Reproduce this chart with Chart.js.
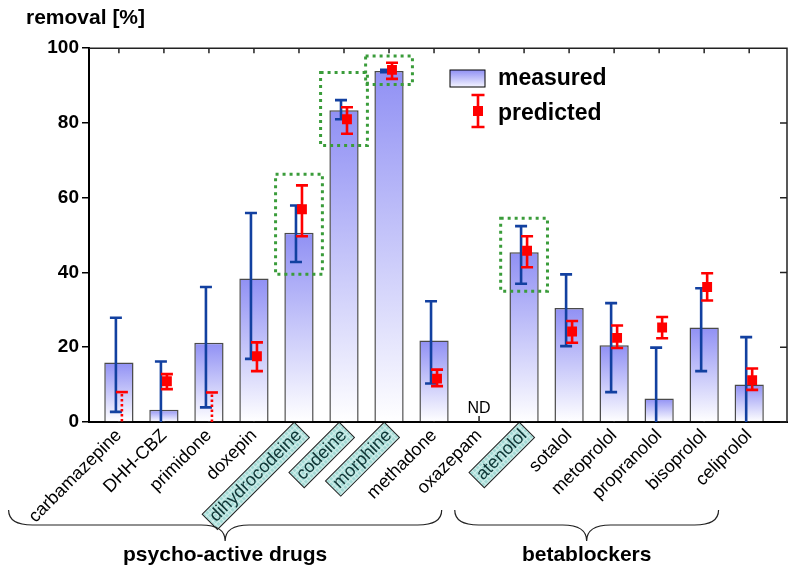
<!DOCTYPE html>
<html>
<head>
<meta charset="utf-8">
<script src="https://cdn.jsdelivr.net/npm/chart.js@4.4.0/dist/chart.umd.min.js"></script>
<style>
  html, body { margin: 0; padding: 0; background: #fff; }
  canvas { display: block; }
</style>
</head>
<body>
<canvas id="chart" width="794" height="569"></canvas>
<script>
const drugs = ['carbamazepine', 'DHH-CBZ', 'primidone', 'doxepin', 'dihydrocodeine', 'codeine', 'morphine', 'methadone',
  'oxazepam', 'atenolol', 'sotalol', 'metoprolol', 'propranolol', 'bisoprolol', 'celiprolol'];
const measured =      [15.9, 3.3, 21.2, 38.4, 50.6, 83.4, 93.9, 21.8, null, 45.4, 30.5, 20.5, 6.3, 25.3, 10.0];
const measuredHigh =  [27.9, 16.2, 36.1, 55.9, 57.9, 86.1, 94.2, 32.3, null, 52.4, 39.5, 31.8, 19.9, 35.8, 22.7];
const measuredLow =   [2.7, -5, 3.9, 16.9, 42.8, 81.0, 93.6, 10.3, null, 37.0, 20.3, 8.0, -5, 13.6, -5];
const predicted =     [null, 10.9, null, 17.6, 56.9, 81.0, 94.2, 11.6, null, 45.8, 24.2, 22.5, 25.3, 36.1, 11.2];
const predictedHigh = [8.0, 12.8, 7.9, 21.3, 63.3, 84.2, 96.1, 14.0, null, 49.7, 27.0, 25.8, 28.1, 39.8, 14.3];
const predictedLow =  [0, 8.8, 0, 13.6, 49.7, 77.1, 91.8, 9.6, null, 41.4, 21.2, 19.8, 22.4, 32.5, 8.6];
const notDetected = [false, false, false, false, false, false, false, false, true, false, false, false, false, false, false];
const highlighted = [4, 5, 6, 9];
const boxTop =    [null, null, null, null, 66.3, 93.5, 97.9, null, null, 54.5, null, null, null, null, null];
const boxBottom = [null, null, null, null, 39.5, 74.0, 90.3, null, null, 35.0, null, null, null, null, null];
const groupNames = ['psycho-active drugs', 'betablockers'];
const groupFrom = [-2.45, 7.46];
const groupTo = [7.17, 13.32];
const seriesNames = ['measured', 'predicted'];

const FONT = "'Liberation Sans', Arial, sans-serif";
const BLUE = '#1240a0';
const RED = '#ff0000';
const LABEL_SIZE = 18;
const LABEL_PAD = 3;

// teal hatched fill for the highlighted names
const tile = document.createElement('canvas');
tile.width = 4; tile.height = 4;
const tg = tile.getContext('2d');
tg.fillStyle = '#a4dbd6'; tg.fillRect(0, 0, 4, 4);
tg.fillStyle = '#d2eeeb'; tg.fillRect(0, 0, 4, 1); tg.fillRect(0, 0, 1, 4);

const barFill = (ctx) => {
  const chart = ctx.chart;
  if (!chart.chartArea || !ctx.parsed) return '#9a9af6';
  const y = chart.scales.y;
  const top = y.getPixelForValue(ctx.parsed.y);
  const base = y.getPixelForValue(0);
  const g = chart.ctx.createLinearGradient(0, top, 0, base);
  g.addColorStop(0, '#9090f4');
  g.addColorStop(1, '#ffffff');
  return g;
};

function drawBar(c, x, top, bottom, capTop, capBottom, w) {
  c.beginPath();
  c.moveTo(x, top); c.lineTo(x, bottom);
  if (capTop) { c.moveTo(x - w / 2, top); c.lineTo(x + w / 2, top); }
  if (capBottom) { c.moveTo(x - w / 2, bottom); c.lineTo(x + w / 2, bottom); }
  c.stroke();
}

const decor = {
  id: 'decor',
  beforeDraw(chart) {
    // boxes behind highlighted tick labels
    const c = chart.ctx, xs = chart.scales.x;
    const lh = LABEL_SIZE * 1.2;
    c.save();
    c.font = `${LABEL_SIZE}px ${FONT}`;
    const pat = c.createPattern(tile, 'repeat');
    highlighted.forEach(i => {
      const w = c.measureText(drugs[i]).width;
      const x = xs.getPixelForValue(i) - (lh / 2) * Math.SQRT1_2;
      const y = xs.top + LABEL_PAD;
      c.save();
      c.translate(x, y);
      c.rotate(-Math.PI / 4);
      c.fillStyle = pat;
      c.fillRect(-w - 4, 0, w + 8, lh);
      c.strokeStyle = '#222';
      c.lineWidth = 1;
      c.strokeRect(-w - 4, 0, w + 8, lh);
      c.restore();
    });
    c.restore();
  },
  beforeDatasetsDraw(chart) {
    const c = chart.ctx, xs = chart.scales.x, ys = chart.scales.y, a = chart.chartArea;
    c.save();
    c.strokeStyle = '#222';
    c.lineWidth = 1.5;
    // frame top and right with inward ticks
    c.beginPath();
    c.moveTo(a.left, a.top); c.lineTo(a.right, a.top); c.lineTo(a.right, a.bottom);
    xs.ticks.forEach(t => {
      const px = xs.getPixelForValue(t.value);
      c.moveTo(px, a.top); c.lineTo(px, a.top + 5);
      c.moveTo(px, a.bottom); c.lineTo(px, a.bottom - 6);
    });
    ys.ticks.forEach(t => {
      const py = ys.getPixelForValue(t.value);
      c.moveTo(a.right, py); c.lineTo(a.right - 7, py);
    });
    c.stroke();
    // ND labels
    c.fillStyle = '#000';
    c.font = `16px ${FONT}`;
    c.textAlign = 'center';
    c.textBaseline = 'middle';
    notDetected.forEach((nd, i) => {
      if (nd) c.fillText('ND', xs.getPixelForValue(i), a.bottom - 13);
    });
    c.restore();
  },
  afterDatasetDraw(chart, args) {
    if (args.index !== 0) return;
    const c = chart.ctx, xs = chart.scales.x, ys = chart.scales.y;
    const py = v => ys.getPixelForValue(v);
    c.save();
    c.lineWidth = 2.6;
    c.lineCap = 'butt';
    // measured spread
    c.strokeStyle = BLUE;
    drugs.forEach((d, i) => {
      if (measuredHigh[i] == null) return;
      const x = xs.getPixelForValue(i) - 3;
      const low = Math.max(measuredLow[i], 0);
      drawBar(c, x, py(measuredHigh[i]), py(low), true, measuredLow[i] >= 0, 12);
    });
    // predicted range
    c.strokeStyle = RED;
    drugs.forEach((d, i) => {
      if (predictedHigh[i] == null) return;
      const x = xs.getPixelForValue(i) + 3;
      if (predicted[i] == null) {
        c.setLineDash([2.5, 2.5]);
        drawBar(c, x, py(predictedHigh[i]) + 2, py(predictedLow[i]), false, false, 12);
        c.setLineDash([]);
        drawBar(c, x, py(predictedHigh[i]), py(predictedHigh[i]), true, false, 12);
      } else {
        drawBar(c, x, py(predictedHigh[i]), py(predictedLow[i]), true, true, 12);
      }
    });
    c.restore();
  },
  afterDatasetsDraw(chart) {
    const c = chart.ctx, xs = chart.scales.x, ys = chart.scales.y;
    c.save();
    // dotted green boxes
    c.strokeStyle = '#3a9c3a';
    c.lineWidth = 3;
    c.setLineDash([3, 4]);
    drugs.forEach((d, i) => {
      if (boxTop[i] == null) return;
      const l = xs.getPixelForValue(i - 0.52), r = xs.getPixelForValue(i + 0.52);
      const t = ys.getPixelForValue(boxTop[i]), b = ys.getPixelForValue(boxBottom[i]);
      c.strokeRect(l, t, r - l, b - t);
    });
    c.setLineDash([]);
    // legend
    const lx = 450, ly = 70;
    const g = c.createLinearGradient(0, ly, 0, ly + 17);
    g.addColorStop(0, '#9090f4');
    g.addColorStop(1, '#f4f4ff');
    c.fillStyle = g;
    c.fillRect(lx, ly, 35, 17);
    c.strokeStyle = '#000';
    c.lineWidth = 1;
    c.strokeRect(lx, ly, 35, 17);
    c.strokeStyle = RED;
    c.lineWidth = 2.6;
    drawBar(c, lx + 28, ly + 25, ly + 57, true, true, 13);
    c.fillStyle = RED;
    c.fillRect(lx + 23, ly + 36, 10, 10);
    c.fillStyle = '#000';
    c.font = `bold 23px ${FONT}`;
    c.textAlign = 'left';
    c.textBaseline = 'middle';
    c.fillText(seriesNames[0], lx + 48, ly + 9);
    c.fillText(seriesNames[1], lx + 48, ly + 44);
    // group braces
    c.strokeStyle = '#222';
    c.lineWidth = 1.2;
    c.font = `bold 21px ${FONT}`;
    c.textAlign = 'center';
    groupNames.forEach((name, k) => {
      const x0 = xs.getPixelForValue(groupFrom[k]), x1 = xs.getPixelForValue(groupTo[k]);
      const xc = (x0 + x1) / 2;
      const yTop = 510, yMid = 525, yTip = 541, r = 24;
      c.beginPath();
      c.moveTo(x0, yTop);
      c.quadraticCurveTo(x0, yMid, x0 + r, yMid);
      c.lineTo(xc - r, yMid);
      c.quadraticCurveTo(xc, yMid, xc, yTip);
      c.quadraticCurveTo(xc, yMid, xc + r, yMid);
      c.lineTo(x1 - r, yMid);
      c.quadraticCurveTo(x1, yMid, x1, yTop);
      c.stroke();
      c.fillText(name, xc, 555);
    });
    c.restore();
  }
};

new Chart(document.getElementById('chart'), {
  type: 'bar',
  data: {
    datasets: [
      {
        label: seriesNames[0],
        data: drugs.map((d, i) => ({ x: i, y: measured[i] })).filter(p => p.y != null),
        backgroundColor: barFill,
        borderColor: '#4a4a4a',
        borderWidth: 1.5,
        barPercentage: 0.65,
        categoryPercentage: 1,
        order: 2
      },
      {
        type: 'scatter',
        label: seriesNames[1],
        data: drugs.map((d, i) => ({ x: i + 0.066, y: predicted[i] })).filter(p => p.y != null),
        pointStyle: 'rect',
        pointRadius: 7,
        backgroundColor: RED,
        borderColor: RED,
        borderWidth: 0,
        order: 1
      }
    ]
  },
  options: {
    responsive: false,
    animation: false,
    layout: { padding: { left: 26, right: 4, top: 0, bottom: 0 } },
    plugins: {
      legend: { display: false },
      tooltip: { enabled: false },
      title: {
        display: true,
        text: 'removal [%]',
        align: 'start',
        color: '#000',
        font: { family: FONT, size: 21, weight: 'bold' },
        padding: { top: 6, bottom: 17 }
      }
    },
    scales: {
      x: {
        type: 'linear',
        offset: false,
        min: -0.664,
        max: 14.84,
        grid: { display: false, drawTicks: false, offset: false },
        border: { display: true, color: '#000', width: 2 },
        ticks: {
          stepSize: 1,
          includeBounds: false,
          autoSkip: false,
          maxRotation: 45,
          minRotation: 45,
          padding: LABEL_PAD,
          color: (ctx) => highlighted.includes(ctx.tick && ctx.tick.value) ? '#0e3434' : '#000',
          font: { family: FONT, size: LABEL_SIZE },
          callback: (v) => drugs[v] !== undefined ? drugs[v] : ''
        },
        afterFit: (s) => { s.height = 147; }
      },
      y: {
        min: 0,
        max: 100,
        grid: { drawOnChartArea: false, drawTicks: true, tickLength: 7, color: '#000', lineWidth: 1.5 },
        border: { display: true, color: '#000', width: 2 },
        ticks: {
          stepSize: 20,
          padding: 3,
          color: '#000',
          font: { family: FONT, size: 19, weight: 'bold' }
        },
        afterFit: (s) => { s.width = 63; }
      }
    }
  },
  plugins: [decor]
});
</script>
</body>
</html>
